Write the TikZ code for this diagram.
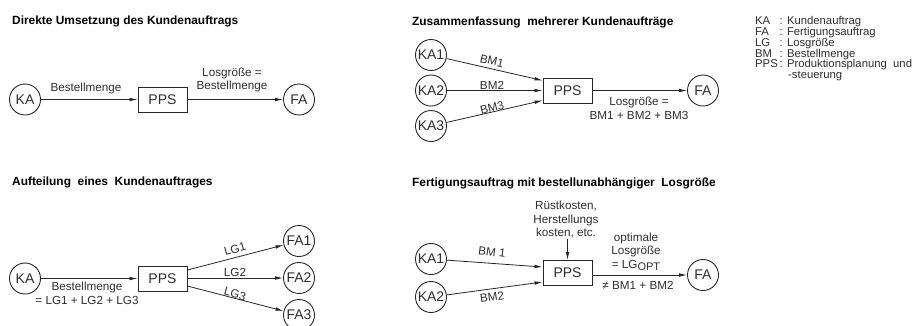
\documentclass[tikz,border=0pt]{standalone}
\usepackage{fontspec}
\setmainfont{Liberation Sans}
\usetikzlibrary{arrows.meta,calc}
\begin{document}
\begin{tikzpicture}[x=1pt,y=-1pt,
  every node/.style={text=black!82},
  kreis/.style={draw=black!85, circle, line width=0.9pt, minimum size=31pt, inner sep=0pt, font=\fontsize{14}{14}\selectfont},
  ppsbox/.style={draw=black!85, rectangle, line width=0.9pt, minimum width=49pt, minimum height=25pt, inner sep=0pt, font=\fontsize{14}{14}\selectfont},
  pfeil/.style={draw=black!85, line width=0.8pt, -{Latex[length=8pt,width=3.6pt]}},
  titel/.style={anchor=west, inner sep=0pt, font=\bfseries\fontsize{11.9}{13}\selectfont, text=black},
  lbl/.style={inner sep=0pt, font=\fontsize{11.7}{13.5}\selectfont},
  lblm/.style={lbl, align=center},
  leg/.style={anchor=mid west, inner sep=0pt, font=\fontsize{11.3}{11}\selectfont},
]
\useasboundingbox (0,0) rectangle (915,325);

% ---------- Panel 1
\node[titel] (t1) at (12,21) {Direkte Umsetzung des Kundenauftrags};
\node[kreis] (ka) at (25,99.5) {KA};
\node[ppsbox] (p1) at (162.5,99.5) {PPS};
\node[kreis] (fa) at (299,99.5) {FA};
\draw[pfeil] (ka) -- (p1);
\draw[pfeil] (p1) -- (fa);
\node[lbl] (l1) at (86,88) {Bestellmenge};
\node[lblm] (l2) at (232,80) {Losgröße =\\Bestellmenge};

% ---------- Panel 2
\node[titel] (t2) at (412,22) {Zusammenfassung\ \ mehrerer Kundenaufträge};
\node[kreis] (k21) at (431,55) {KA1};
\node[kreis] (k22) at (431,90.5) {KA2};
\node[kreis] (k23) at (431,126) {KA3};
\node[ppsbox] (p2) at (567.5,90.5) {PPS};
\node[kreis] (f2) at (703,90.5) {FA};
\draw[pfeil] (k21) -- ([yshift=10pt]p2.west);
\draw[pfeil] (k22) -- (p2);
\draw[pfeil] (k23) -- ([yshift=-10pt]p2.west);
\draw[pfeil] (p2) -- (f2);
\node[lbl, rotate=-13] (b21) at (492,61) {BM1};
\node[lbl] (b22) at (492,85) {BM2};
\node[lbl, rotate=14] (b23) at (492,108) {BM3};
\node[lblm] (l21) at (639,108.5) {Losgröße =\\BM1 + BM2 + BM3};

% ---------- Legend
\node[leg] (a1) at (755,22.3) {KA};  \node[leg] (d1) at (779.5,22.3) {: Kundenauftrag};
\node[leg] (a2) at (755,33.2) {FA};  \node[leg] (d2) at (779.5,33.2) {: Fertigungsauftrag};
\node[leg] (a3) at (755,43.8) {LG};  \node[leg] (d3) at (779.5,43.8) {: Losgröße};
\node[leg] (a4) at (755,54.5) {BM};  \node[leg] (d4) at (779.5,54.5) {: Bestellmenge};
\node[leg] (a5) at (755,65.3) {PPS}; \node[leg] (d5) at (779.5,65.3) {: Produktionsplanung\ \ und};
\node[leg] (d6) at (788,76) {-steuerung};

% ---------- Panel 3
\node[titel] (t3) at (12,182) {Aufteilung\ \ eines\ \ Kundenauftrages};
\node[kreis] (k3) at (25,278.5) {KA};
\node[ppsbox] (p3) at (162.5,279) {PPS};
\node[kreis] (f31) at (299,241) {FA1};
\node[kreis] (f32) at (299,278) {FA2};
\node[kreis] (f33) at (299,315) {FA3};
\draw[pfeil] (k3) -- (k3 -| p3.west);
\draw[pfeil] ([yshift=9pt]p3.east) -- (f31);
\draw[pfeil] (p3.east |- f32) -- (f32);
\draw[pfeil] ([yshift=-7pt]p3.east) -- (f33);
\node[lbl, rotate=15] (g1) at (235,249) {LG1};
\node[lbl] (g2) at (235,272) {LG2};
\node[lbl, rotate=-15.5] (g3) at (235,294) {LG3};
\node[lblm] (l31) at (87,293.5) {Bestellmenge\\= LG1 + LG2 + LG3};

% ---------- Panel 4
\node[titel] (t4) at (412,183) {Fertigungsauftrag mit bestellunabhängiger\ \ Losgröße};
\node[kreis] (k41) at (431,259) {KA1};
\node[kreis] (k42) at (431,297) {KA2};
\node[ppsbox] (p4) at (567.5,273) {PPS};
\node[kreis] (f4) at (703,275) {FA};
\node[lblm] (rk) at (566,220) {Rüstkosten,\\Herstellungs\\kosten, etc.};
\draw[pfeil] (rk.south -| p4.north) -- (p4.north);
\draw[pfeil] (k41) -- ([yshift=6pt]p4.west);
\draw[pfeil] (k42) -- ([yshift=-9pt]p4.west);
\draw[pfeil] (p4.east |- f4) -- (f4);
\node[lbl, rotate=-8] (b41) at (492,252) {BM 1};
\node[lbl, rotate=8] (b42) at (492,297) {BM2};
\node[lblm] (op) at (636,252) {optimale\\Losgröße\\= LG\raisebox{-2.5pt}{\fontsize{11}{11}\selectfont OPT}};
\node[lbl] (ne) at (638,285) {≠ BM1 + BM2};
\end{tikzpicture}
\end{document}
